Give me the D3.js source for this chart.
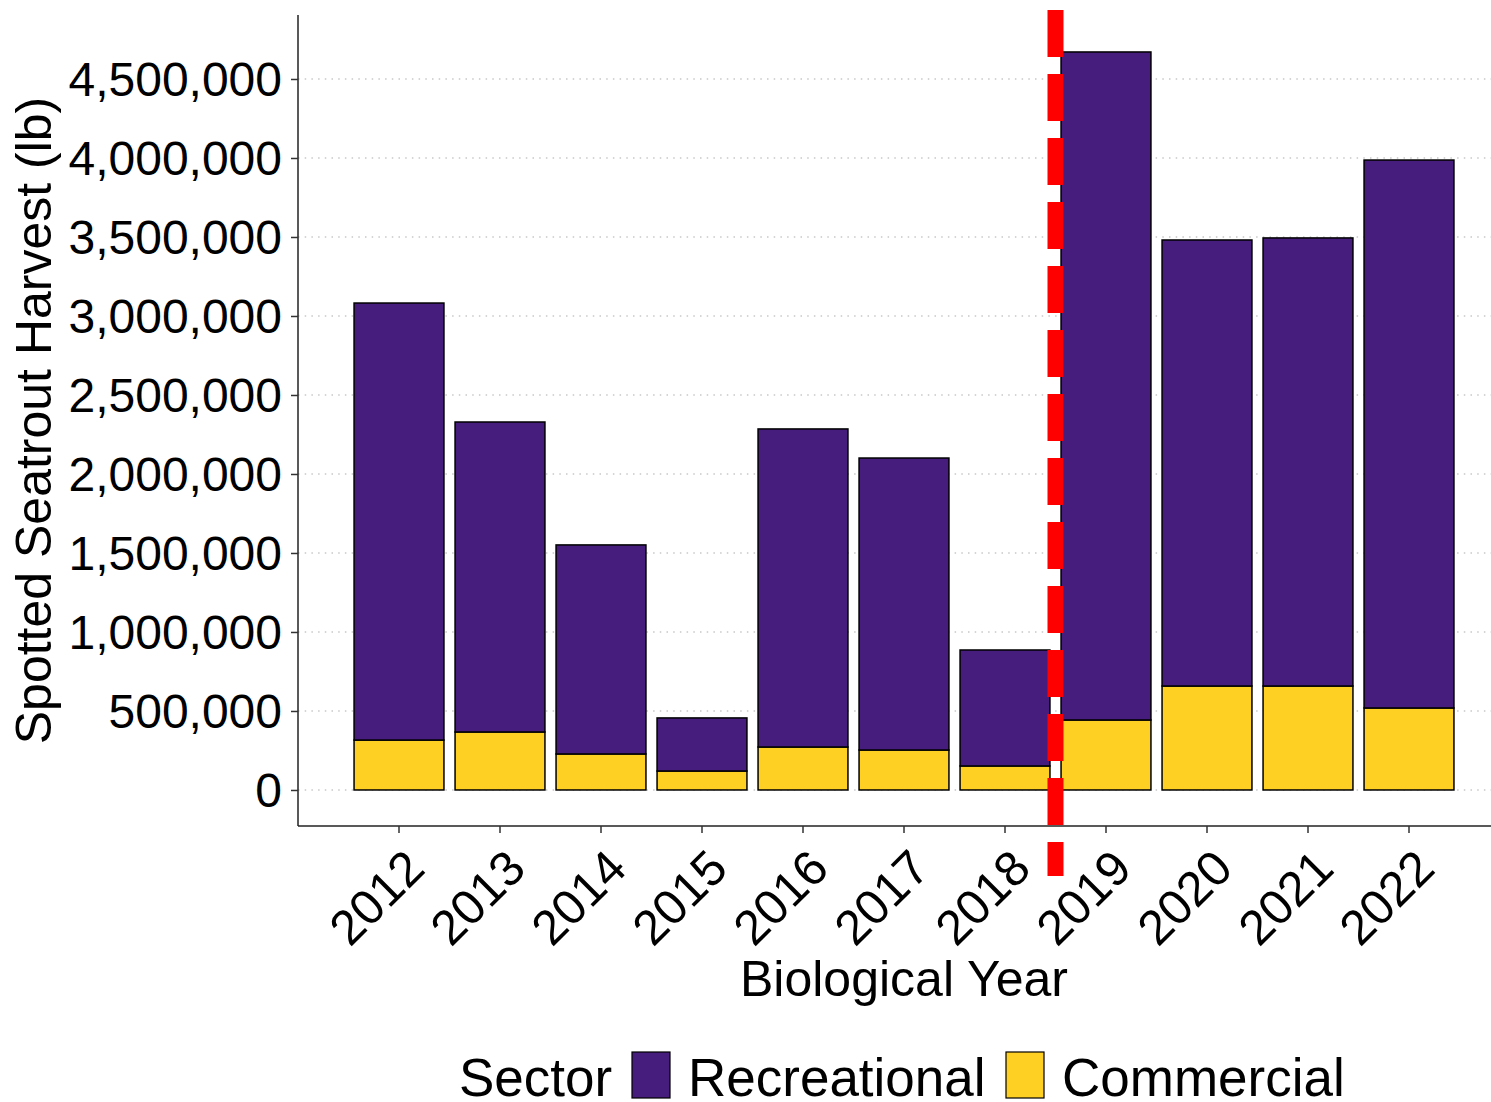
<!DOCTYPE html>
<html>
<head>
<meta charset="utf-8">
<script src="https://cdn.jsdelivr.net/npm/d3@7"></script>
<style>
  body { margin: 0; background: #fff; }
  svg { display: block; font-family: "Liberation Sans", Arial, sans-serif; }
</style>
</head>
<body>
<svg width="1491" height="1102"></svg>
<script>
// data
var years = ["2012", "2013", "2014", "2015", "2016", "2017", "2018", "2019", "2020", "2021", "2022"];
var recreational = [2766000, 1962000, 1323000, 336000, 2013000, 1848000, 734000, 4228000, 2823000, 2836000, 3468000];
var commercial = [316000, 367000, 228000, 120000, 272000, 253000, 152000, 443000, 658000, 658000, 519000];
var yTicks = [0, 500000, 1000000, 1500000, 2000000, 2500000, 3000000, 3500000, 4000000, 4500000];
var sectors = ["Recreational", "Commercial"];
var sectorColors = ["#461D7C", "#FDD023"];
var cutoffBetween = ["2018", "2019"];

var svg = d3.select("svg");
var width = +svg.attr("width");
var height = +svg.attr("height");

var panelLeft = 298, panelTop = 15, panelBottom = 826, panelRight = 1510;

var x = d3.scaleBand()
  .domain(years)
  .range([panelLeft + 50.5, panelRight - 50.5])
  .paddingInner(0.11)
  .paddingOuter(0.055);

var y = d3.scaleLinear()
  .domain([-228000, 4905000])
  .range([panelBottom, panelTop]);

var color = d3.scaleOrdinal().domain(sectors).range(sectorColors);

// dotted grid
svg.append("g")
  .selectAll("line")
  .data(yTicks)
  .enter().append("line")
  .attr("x1", panelLeft).attr("x2", width)
  .attr("y1", d => y(d)).attr("y2", d => y(d))
  .attr("stroke", "#c8c8c8")
  .attr("stroke-width", 1.3)
  .attr("stroke-dasharray", "1.5,5.2");

// stacked bars
var rows = years.map((yr, i) => ({year: yr, Commercial: commercial[i], Recreational: recreational[i]}));
var stack = d3.stack().keys(["Commercial", "Recreational"]);
var layers = stack(rows);

svg.append("g")
  .selectAll("g")
  .data(layers)
  .enter().append("g")
  .attr("fill", d => color(d.key))
  .selectAll("rect")
  .data(d => d)
  .enter().append("rect")
  .attr("x", d => x(d.data.year))
  .attr("width", x.bandwidth())
  .attr("y", d => y(d[1]))
  .attr("height", d => y(d[0]) - y(d[1]))
  .attr("stroke", "#000")
  .attr("stroke-width", 1.5);

// red dashed cutoff line
var cutX = (x(cutoffBetween[0]) + x(cutoffBetween[1]) + x.bandwidth()) / 2;
svg.append("line")
  .attr("x1", cutX).attr("x2", cutX)
  .attr("y1", 10).attr("y2", 876)
  .attr("stroke", "#ff0000")
  .attr("stroke-width", 16)
  .attr("stroke-dasharray", "47,17");

// y axis
var yAxis = svg.append("g")
  .attr("transform", "translate(" + panelLeft + ",0)")
  .call(d3.axisLeft(y).tickValues(yTicks).tickFormat(d3.format(",")).tickSize(7).tickPadding(9));
yAxis.select(".domain").attr("d", "M0," + panelTop + "V" + panelBottom).attr("stroke", "#222").attr("stroke-width", 1.5);
yAxis.selectAll(".tick line").attr("stroke", "#333").attr("stroke-width", 1.5);
yAxis.selectAll("text").attr("font-size", 48).attr("fill", "#000").attr("dy", "0.35em");

// x axis
var xAxis = svg.append("g")
  .attr("transform", "translate(0," + panelBottom + ")")
  .call(d3.axisBottom(x).tickSize(7));
xAxis.select(".domain").attr("d", "M" + panelLeft + ",0H" + width).attr("stroke", "#222").attr("stroke-width", 1.5);
xAxis.selectAll(".tick line").attr("stroke", "#333").attr("stroke-width", 1.5);
xAxis.selectAll("text")
  .attr("font-size", 49)
  .attr("fill", "#000")
  .attr("text-anchor", "end")
  .attr("y", 0).attr("dy", 0)
  .attr("transform", "translate(28,45) rotate(-45)");

// axis titles
svg.append("text")
  .attr("transform", "translate(51," + (panelTop + panelBottom) / 2 + ") rotate(-90)")
  .attr("text-anchor", "middle")
  .attr("font-size", 50)
  .text("Spotted Seatrout Harvest (lb)");

svg.append("text")
  .attr("x", (panelLeft + panelRight) / 2)
  .attr("y", 996)
  .attr("text-anchor", "middle")
  .attr("font-size", 50)
  .text("Biological Year");

// legend
var legend = svg.append("g").attr("font-size", 53);
legend.append("text").attr("x", 459).attr("y", 1096).text("Sector");
var keyX = [632, 1006];
sectors.forEach((s, i) => {
  legend.append("rect")
    .attr("x", keyX[i]).attr("y", 1052)
    .attr("width", 38).attr("height", 46)
    .attr("fill", color(s))
    .attr("stroke", "#000").attr("stroke-width", 1.2);
  legend.append("text")
    .attr("x", keyX[i] + 56).attr("y", 1096)
    .text(s);
});
</script>
</body>
</html>
